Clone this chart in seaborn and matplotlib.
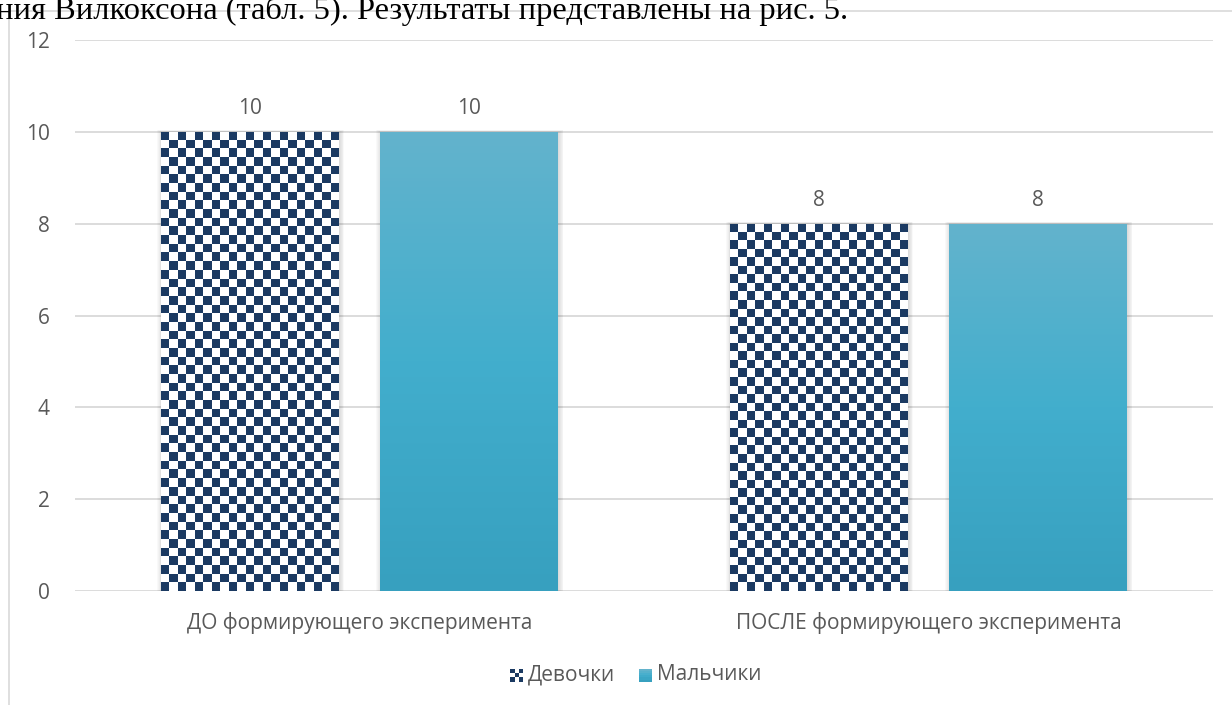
import numpy as np
import pandas as pd
import matplotlib
matplotlib.use("Agg")
import matplotlib.pyplot as plt
import seaborn as sns
from matplotlib.colors import ListedColormap, LinearSegmentedColormap
from matplotlib.patches import Rectangle
from matplotlib.legend_handler import HandlerBase

# ---- data ----
stages = ["ДО формирующего эксперимента", "ПОСЛЕ формирующего эксперимента"]
groups = ["Девочки", "Мальчики"]
girls = [10, 8]
boys = [10, 8]
y_ticks = [0, 2, 4, 6, 8, 10, 12]

df = pd.DataFrame({
    "stage": stages * 2,
    "group": [groups[0]] * len(stages) + [groups[1]] * len(stages),
    "value": girls + boys,
})

NAVY = "#1b3a62"
TEXT = "#595959"
GRID = "#d9d9d9"
FS = 15
checker_cmap = ListedColormap(["white", NAVY])
teal_cmap = LinearSegmentedColormap.from_list(
    "teal", ["#37a0bf", "#42aecd", "#63b3cc"])

sns.set_theme(style="white")
plt.rcParams["font.family"] = ["Open Sans", "DejaVu Sans"]

W, H = 1232, 705
fig = plt.figure(figsize=(W / 100, H / 100), dpi=100)
ax = fig.add_axes([75 / W, (H - 591) / H, (1213 - 75) / W, (591 - 40) / H])

sns.barplot(data=df, x="stage", y="value", hue="group", order=stages,
            hue_order=groups, palette=[NAVY, "#42aecd"], width=0.77,
            gap=0.19, dodge=True, ax=ax, legend=False, linewidth=0,
            saturation=1, err_kws={"linewidth": 0})

ax.set_ylim(0, 12)
ax.set_xlim(-0.5, 1.5)
ax.set_yticks(y_ticks)
ax.set_yticklabels([str(t) for t in y_ticks])
ax.set_xlabel("")
ax.set_ylabel("")
for s in ax.spines.values():
    s.set_visible(False)
ax.yaxis.grid(True, color=GRID, linewidth=1.3)
ax.set_axisbelow(True)
ax.tick_params(axis="both", length=0, colors=TEXT, labelsize=FS)
ax.tick_params(axis="y", pad=18)
ax.tick_params(axis="x", pad=15)

fig.canvas.draw()
px_per_x = ax.bbox.width / 2.0
px_per_y = ax.bbox.height / 12.0

bars = list(ax.patches)
n = len(stages)
for i, bar in enumerate(bars):
    x0, y0 = bar.get_x(), bar.get_y()
    w, h = bar.get_width(), bar.get_height()
    # soft shadow around each bar
    for k in range(1, 7):
        dx = k * 1.0 / px_per_x
        dy = k * 0.3 / px_per_y
        ax.add_patch(Rectangle((x0 - dx * 0.8 + 0.8 / px_per_x, y0),
                               w + dx * 1.6, h + dy,
                               facecolor="black", alpha=0.022,
                               linewidth=0, zorder=1.5))
    bar.set_zorder(2)
    extent = (x0, x0 + w, y0, y0 + h)
    if i < n:
        # checkerboard fill
        nx = max(1, int(round(w * px_per_x / 8.6)))
        ny = max(1, int(round(h * px_per_y / 8.6)))
        grid = 1 - (np.add.outer(np.arange(ny), np.arange(nx)) % 2)
        im = ax.imshow(grid, cmap=checker_cmap, extent=extent, origin="upper",
                       aspect="auto", interpolation="nearest", zorder=2.1)
    else:
        grad = np.linspace(0, 1, 256).reshape(-1, 1)
        im = ax.imshow(grad, cmap=teal_cmap, extent=extent, origin="lower",
                       aspect="auto", interpolation="bilinear", zorder=2.1)
    im.set_clip_path(bar)
    ax.annotate(f"{df['value'].iloc[i]:g}", (x0 + w / 2, y0 + h),
                xytext=(0, 13), textcoords="offset pixels", ha="center",
                va="bottom", fontsize=FS, color=TEXT)

ax.set_xlim(-0.5, 1.5)
ax.set_ylim(0, 12)


class CheckerHandler(HandlerBase):
    def create_artists(self, legend, orig, xd, yd, width, height, fontsize, trans):
        arts = []
        n_sq = 3
        s = height / n_sq
        x_start = xd + (width - height) / 2
        arts.append(Rectangle((x_start, yd), height, height, facecolor="white",
                              linewidth=0, transform=trans))
        for r in range(n_sq):
            for c in range(n_sq):
                if (r + c) % 2 == 0:
                    arts.append(Rectangle((x_start + c * s, yd + r * s), s, s,
                                          facecolor=NAVY, linewidth=0,
                                          transform=trans))
        return arts


class GradientHandler(HandlerBase):
    def create_artists(self, legend, orig, xd, yd, width, height, fontsize, trans):
        arts = []
        x_start = xd + (width - height) / 2
        steps = 6
        cols = teal_cmap(np.linspace(0, 1, steps))
        for k in range(steps):
            arts.append(Rectangle((x_start, yd + k * height / steps), height,
                                  height / steps + 0.3, facecolor=cols[k],
                                  linewidth=0, transform=trans))
        return arts


h_girls = Rectangle((0, 0), 1, 1, facecolor=NAVY)
h_boys = Rectangle((0, 0), 1, 1, facecolor="#42aecd")
leg = fig.legend([h_girls, h_boys], groups, loc="center",
                 bbox_to_anchor=(636 / W, 1 - 675 / H), ncol=2, frameon=False,
                 fontsize=FS, handlelength=0.55, handleheight=0.55,
                 handletextpad=0.25, columnspacing=1.2,
                 handler_map={h_girls: CheckerHandler(), h_boys: GradientHandler()})
for t in leg.get_texts():
    t.set_color(TEXT)

# chart frame and the line of body text above it
fig.patches.append(Rectangle((9 / W, -0.1), 1.2, 1 - 11 / H + 0.1,
                             transform=fig.transFigure, facecolor="none",
                             edgecolor=GRID, linewidth=1.2, zorder=0))
fig.text(-4 / W, 1 - 19 / H,
         "ния Вилкоксона (табл. 5). Результаты представлены на рис. 5.",
         fontsize=23.4, family=["Liberation Serif", "DejaVu Serif"],
         color="black", ha="left", va="baseline")

fig.savefig("out.png", dpi=100)
